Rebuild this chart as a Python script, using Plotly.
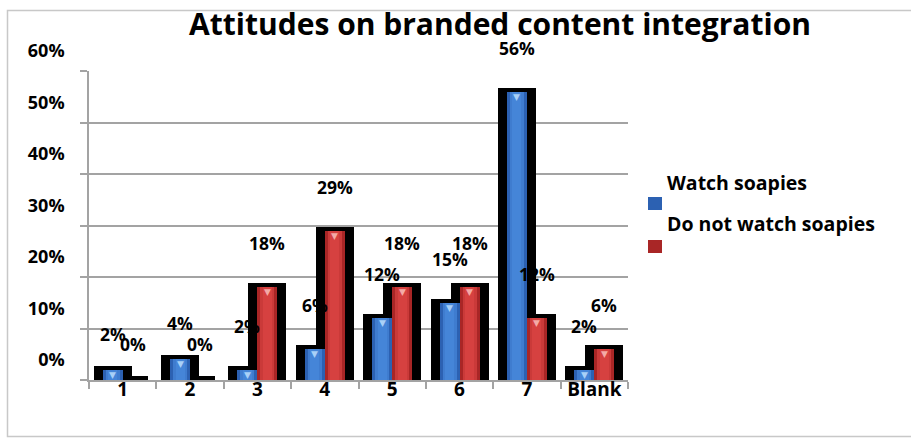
import plotly.graph_objects as go

# Survey answers (1-7 scale plus blank) as share of respondents, in percent
categories = ["1", "2", "3", "4", "5", "6", "7", "Blank"]
watch = [2, 4, 2, 6, 12, 15, 56, 2]
not_watch = [0, 0, 18, 29, 18, 18, 12, 6]
series_names = ["Watch soapies", "Do not watch soapies"]
y_ticks = [0, 10, 20, 30, 40, 50, 60]

FONT = "Open Sans"
BLUE_EDGE, BLUE_MID, BLUE_HI = "#2C61B2", "#4585D8", "#A9D0F7"
RED_EDGE, RED_MID, RED_HI = "#A92626", "#D64140", "#F4AAA6"
GRID = "#A3A3A3"

# plot-area geometry in pixels
L, R, T, B = 89, 628, 71, 380
W, H = 911, 438
cat_px = (R - L) / len(categories)
face = 20 / cat_px          # face width in category units
shadow = 30 / cat_px        # black body width (plus line) in category units
hi = 9 / cat_px             # highlight stripe width

fig = go.Figure()

centres = {}
# black bodies behind the coloured faces
for name, vals, sign in [(series_names[0], watch, -1), (series_names[1], not_watch, 1)]:
    c = sign * face / 2
    centres[name] = c
    fig.add_trace(go.Bar(
        x=categories, y=vals, offset=c - shadow / 2, width=shadow,
        marker=dict(color="black", line=dict(color="black", width=8)),
        showlegend=False, hoverinfo="skip"))

# coloured faces with a lighter centre to suggest a rounded column
for name, vals, edge, mid in [(series_names[0], watch, BLUE_EDGE, BLUE_MID),
                              (series_names[1], not_watch, RED_EDGE, RED_MID)]:
    c = centres[name]
    fig.add_trace(go.Bar(
        x=categories, y=vals, offset=c - face / 2, width=face, name=name,
        marker=dict(color=edge, line=dict(width=0)), showlegend=False))
    fig.add_trace(go.Bar(
        x=categories, y=vals, offset=c - 0.7 * face / 2, width=0.7 * face,
        marker=dict(color=mid, line=dict(width=0), opacity=0.75),
        showlegend=False, hoverinfo="skip"))
    fig.add_trace(go.Bar(
        x=categories, y=vals, offset=c - hi / 2, width=hi,
        marker=dict(color=mid, line=dict(width=0)),
        showlegend=False, hoverinfo="skip"))

annotations = []
# small bevel triangles at the top of each face and the value labels
for vals, sign, hic in [(watch, -1, BLUE_HI), (not_watch, 1, RED_HI)]:
    for i, v in enumerate(vals):
        if v > 0:
            annotations.append(dict(
                x=i, y=v, xref="x", yref="y", text="▼", showarrow=False,
                xshift=sign * 10, yshift=-5, yanchor="middle",
                font=dict(family="DejaVu Sans", size=9, color=hic)))
        annotations.append(dict(
            x=i, y=v, xref="x", yref="y", text=f"{v}%", showarrow=False,
            xshift=sign * 10, yshift=44 if i > 1 else 36, yanchor="middle",
            font=dict(family=FONT, size=17.5, color="black", weight="bold")))

# legend: caption above, swatch below
def px_x(px):
    return (px - L) / (R - L)

def px_y(py):
    return (B - py) / (B - T)

shapes = []
for name, col, ty, sy in [(series_names[0], BLUE_EDGE, 182, 197),
                          (series_names[1], RED_EDGE, 223, 240)]:
    annotations.append(dict(
        x=px_x(665), y=px_y(ty), xref="paper", yref="paper", text=name,
        showarrow=False, xanchor="left", yanchor="middle",
        font=dict(family=FONT, size=19.5, color="black", weight="bold")))
    shapes.append(dict(
        type="rect", xref="paper", yref="paper",
        x0=px_x(648), x1=px_x(662), y0=px_y(sy + 13), y1=px_y(sy),
        fillcolor=col, line=dict(color=col, width=0)))

# chart frame
shapes.append(dict(
    type="rect", xref="paper", yref="paper",
    x0=px_x(7.5), x1=px_x(930), y0=px_y(436.5), y1=px_y(10.5),
    line=dict(color="#C8C8C8", width=1.5), fillcolor="rgba(0,0,0,0)", layer="below"))

fig.update_layout(
    width=W, height=H,
    margin=dict(l=L, r=W - R, t=T, b=H - B),
    paper_bgcolor="white", plot_bgcolor="white",
    barmode="overlay", bargap=0,
    title=dict(text="Attitudes on branded content integration",
               x=500 / W, xanchor="center", y=1 - 24 / H, yanchor="middle",
               font=dict(family=FONT, size=30, color="black", weight="bold")),
    annotations=annotations, shapes=shapes,
    showlegend=False,
)

fig.update_xaxes(
    type="category", categoryorder="array", categoryarray=categories,
    range=[-0.5, len(categories) - 0.5],
    showgrid=False, showline=True, linecolor=GRID, linewidth=1.5,
    ticks="outside", tickson="boundaries", ticklen=7, tickcolor=GRID, tickwidth=1.5,
    ticklabelstandoff=-9,
    tickfont=dict(family=FONT, size=19, color="black", weight="bold"),
)
fig.update_yaxes(
    range=[0, 60], tickvals=y_ticks, ticktext=[f"{t}%" for t in y_ticks],
    showgrid=True, gridcolor=GRID, gridwidth=1.5,
    showline=True, linecolor=GRID, linewidth=1.5,
    ticks="outside", ticklen=7, tickcolor=GRID, tickwidth=1.5,
    ticklabelshift=-20, ticklabelstandoff=12,
    zeroline=False,
    tickfont=dict(family=FONT, size=18, color="black", weight="bold"),
)

fig.write_html("out.html")
